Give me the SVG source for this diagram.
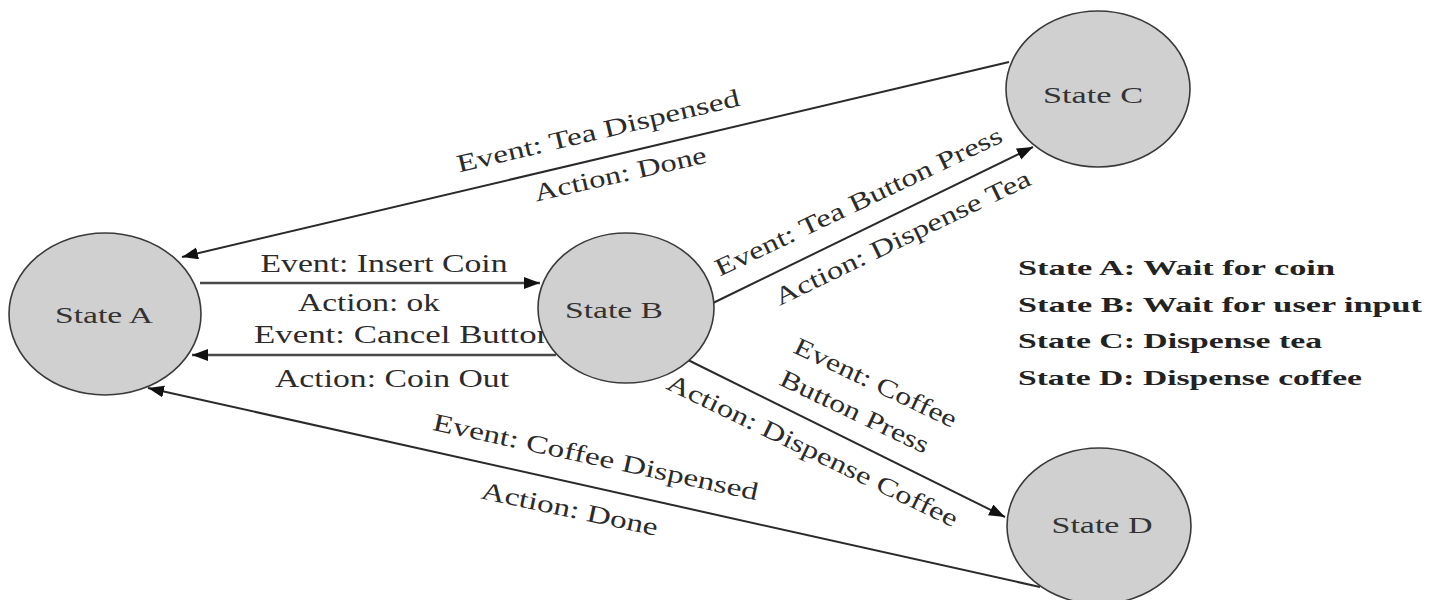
<svg xmlns="http://www.w3.org/2000/svg" width="1440" height="600" viewBox="0 0 1440 600">
<style>
.edge{stroke:#2a2a2a;stroke-width:2;fill:none;marker-end:url(#arr)}
.edge2{stroke:#4a4a4a;stroke-width:2.6;fill:none;marker-end:url(#arr)}
.lbl{font-family:"Liberation Serif","Times New Roman",serif;font-size:25px;fill:#2b2b2b}
.node{fill:#d0d0d0;stroke:#3a3a3a;stroke-width:1.6}
.ntxt{font-family:"Liberation Serif","Times New Roman",serif;font-size:24px;fill:#333;text-anchor:middle}
.leg{font-family:"Liberation Serif","Times New Roman",serif;font-size:22px;font-weight:bold;fill:#222}
</style>
<defs>
<marker id="arr" markerUnits="userSpaceOnUse" markerWidth="18" markerHeight="14" refX="16" refY="6" orient="auto">
<path d="M0,0 L16,6 L0,12 z" fill="#111"/>
</marker>
</defs>
<rect width="1440" height="600" fill="#fff"/>
<g id="connectors">
<line class="edge" x1="1009" y1="62" x2="182" y2="257"/>
<line class="edge2" x1="200" y1="283" x2="540" y2="283"/>
<line class="edge2" x1="556" y1="355" x2="192" y2="355"/>
<line class="edge" x1="713" y1="303" x2="1033" y2="147"/>
<line class="edge" x1="688" y1="360" x2="1005" y2="517"/>
<line class="edge" x1="1040" y1="587" x2="148" y2="388"/>
<g class="lbl">
<text x="600" y="139" text-anchor="middle" textLength="290" lengthAdjust="spacingAndGlyphs" transform="rotate(-13.4 600 139)">Event: Tea Dispensed</text>
<text x="622" y="182" text-anchor="middle" textLength="176" lengthAdjust="spacingAndGlyphs" transform="rotate(-12.8 622 182)">Action: Done</text>
<text x="384" y="272" text-anchor="middle" textLength="247" lengthAdjust="spacingAndGlyphs">Event: Insert Coin</text>
<text x="369" y="311" text-anchor="middle" textLength="142" lengthAdjust="spacingAndGlyphs">Action: ok</text>
<text x="254" y="343" textLength="300" lengthAdjust="spacingAndGlyphs">Event: Cancel Button</text>
<text x="392" y="387" text-anchor="middle" textLength="234" lengthAdjust="spacingAndGlyphs">Action: Coin Out</text>
<text x="862" y="209" text-anchor="middle" textLength="315" lengthAdjust="spacingAndGlyphs" transform="rotate(-25.5 862 209)">Event: Tea Button Press</text>
<text x="906" y="245" text-anchor="middle" textLength="281" lengthAdjust="spacingAndGlyphs" transform="rotate(-25.7 906 245)">Action: Dispense Tea</text>
<text x="872" y="390" text-anchor="middle" textLength="177" lengthAdjust="spacingAndGlyphs" transform="rotate(25.5 872 390)">Event: Coffee</text>
<text x="851" y="419" text-anchor="middle" textLength="162" lengthAdjust="spacingAndGlyphs" transform="rotate(25.5 851 419)">Button Press</text>
<text x="809" y="458" text-anchor="middle" textLength="320" lengthAdjust="spacingAndGlyphs" transform="rotate(25.8 809 458)">Action: Dispense Coffee</text>
<text x="594" y="465" text-anchor="middle" textLength="332" lengthAdjust="spacingAndGlyphs" transform="rotate(12.3 594 465)">Event: Coffee Dispensed</text>
<text x="568" y="517" text-anchor="middle" textLength="180" lengthAdjust="spacingAndGlyphs" transform="rotate(12 568 517)">Action: Done</text>
</g>
</g>
<g id="stateA">
<ellipse class="node" cx="105" cy="314" rx="96" ry="81"/>
<text class="ntxt" x="104" y="323" textLength="98" lengthAdjust="spacingAndGlyphs">State A</text>
</g>
<g id="stateB">
<ellipse class="node" cx="626" cy="308" rx="88" ry="75"/>
<text class="ntxt" x="614" y="318" textLength="98" lengthAdjust="spacingAndGlyphs">State B</text>
</g>
<g id="stateC">
<ellipse class="node" cx="1098" cy="89" rx="92" ry="78"/>
<text class="ntxt" x="1093" y="103" textLength="100" lengthAdjust="spacingAndGlyphs">State C</text>
</g>
<g id="stateD">
<ellipse class="node" cx="1099" cy="526" rx="92" ry="78"/>
<text class="ntxt" x="1102" y="533" textLength="101" lengthAdjust="spacingAndGlyphs">State D</text>
</g>
<g id="legend" class="leg">
<text x="1018" y="275" textLength="317" lengthAdjust="spacingAndGlyphs">State A: Wait for coin</text>
<text x="1018" y="312" textLength="404" lengthAdjust="spacingAndGlyphs">State B: Wait for user input</text>
<text x="1018" y="348" textLength="304" lengthAdjust="spacingAndGlyphs">State C: Dispense tea</text>
<text x="1018" y="385" textLength="344" lengthAdjust="spacingAndGlyphs">State D: Dispense coffee</text>
</g>
</svg>
